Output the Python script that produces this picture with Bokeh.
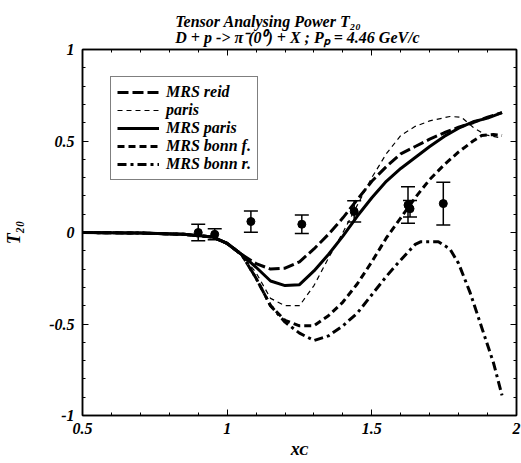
from bokeh.plotting import figure
from bokeh.models import (Range1d, LinearAxis, SingleIntervalTicker, Legend, LegendItem,
                          Whisker, ColumnDataSource, Title, CustomJSTickFormatter)
from bokeh.embed import file_html
from bokeh.resources import INLINE

# ---- data ----
x_reid = [0.5, 0.7, 0.85, 0.95, 1.0, 1.05, 1.1, 1.15, 1.2, 1.25, 1.3, 1.35, 1.4, 1.45, 1.5,
          1.55, 1.6, 1.65, 1.7, 1.75, 1.8, 1.85, 1.9, 1.95]
y_reid = [0.0, -0.003, -0.01, -0.025, -0.06, -0.12, -0.17, -0.2, -0.195, -0.16, -0.09, -0.01,
          0.08, 0.18, 0.28, 0.36, 0.43, 0.47, 0.51, 0.545, 0.575, 0.6, 0.63, 0.655]

x_paris = [0.5, 0.7, 0.85, 0.95, 1.0, 1.05, 1.1, 1.15, 1.2, 1.25, 1.3, 1.35, 1.4, 1.45, 1.5,
           1.55, 1.6, 1.65, 1.7, 1.77, 1.81, 1.85, 1.89, 1.95]
y_paris = [0.0, -0.003, -0.01, -0.025, -0.06, -0.12, -0.22, -0.36, -0.40, -0.40, -0.29, -0.14,
           0.0, 0.15, 0.3, 0.43, 0.53, 0.58, 0.61, 0.634, 0.63, 0.575, 0.535, 0.515]

x_mrs_paris = [0.5, 0.7, 0.85, 0.95, 1.0, 1.05, 1.1, 1.15, 1.2, 1.25, 1.3, 1.35, 1.4, 1.45,
               1.5, 1.55, 1.6, 1.65, 1.7, 1.75, 1.8, 1.85, 1.9, 1.95]
y_mrs_paris = [0.0, -0.003, -0.01, -0.025, -0.06, -0.12, -0.19, -0.265, -0.29, -0.285, -0.21,
               -0.12, -0.02, 0.09, 0.19, 0.28, 0.35, 0.41, 0.47, 0.525, 0.57, 0.605, 0.625, 0.655]

x_bonn_f = [0.5, 0.7, 0.85, 0.95, 1.0, 1.05, 1.1, 1.15, 1.2, 1.25, 1.3, 1.35, 1.4, 1.45, 1.5,
            1.55, 1.6, 1.65, 1.7, 1.75, 1.8, 1.85, 1.88, 1.92, 1.95]
y_bonn_f = [0.0, -0.003, -0.01, -0.025, -0.06, -0.12, -0.25, -0.4, -0.48, -0.51, -0.51, -0.455,
            -0.38, -0.28, -0.16, -0.03, 0.08, 0.19, 0.29, 0.37, 0.44, 0.5, 0.53, 0.535, 0.53]

x_bonn_r = [0.5, 0.7, 0.85, 0.95, 1.0, 1.05, 1.1, 1.15, 1.2, 1.25, 1.3, 1.35, 1.4, 1.45, 1.5,
            1.55, 1.6, 1.65, 1.67, 1.73, 1.77, 1.8, 1.84, 1.88, 1.92, 1.95]
y_bonn_r = [0.0, -0.003, -0.01, -0.025, -0.06, -0.12, -0.25, -0.4, -0.49, -0.55, -0.59, -0.565,
            -0.51, -0.44, -0.34, -0.24, -0.15, -0.065, -0.05, -0.05, -0.09, -0.17, -0.33, -0.52,
            -0.71, -0.89]

data_x = [0.9, 0.957, 1.082, 1.258, 1.439, 1.625, 1.632, 1.747]
data_y = [0.0, -0.01, 0.06, 0.045, 0.115, 0.15, 0.13, 0.158]
data_err = [0.045, 0.03, 0.058, 0.05, 0.058, 0.1, 0.045, 0.117]

x_ticks = [0.5, 1, 1.5, 2]
y_ticks = [-1, -0.5, 0, 0.5, 1]

FONT = "Liberation Serif"

p = figure(frame_width=434, frame_height=366, output_backend="svg", toolbar_location=None,
           x_range=Range1d(0.5, 2), y_range=Range1d(-1, 1),
           min_border_left=82, min_border_right=5, min_border_top=49, min_border_bottom=48)
p.background_fill_color = "white"
p.border_fill_color = "white"
p.outline_line_color = "black"
p.outline_line_width = 1.5
p.xgrid.visible = False
p.ygrid.visible = False

r_reid = p.line(x_reid, y_reid, line_color="black", line_width=3, line_dash="11 4")
r_paris = p.line(x_paris, y_paris, line_color="black", line_width=1.2, line_dash="5 4")
r_mrsp = p.line(x_mrs_paris, y_mrs_paris, line_color="black", line_width=3)
r_bf = p.line(x_bonn_f, y_bonn_f, line_color="black", line_width=3, line_dash="7 4")
r_br = p.line(x_bonn_r, y_bonn_r, line_color="black", line_width=3, line_dash="9 4 3 4")

src = ColumnDataSource(dict(x=data_x, y=data_y,
                            lo=[a - b for a, b in zip(data_y, data_err)],
                            hi=[a + b for a, b in zip(data_y, data_err)]))
w = Whisker(base="x", lower="lo", upper="hi", source=src, line_color="black", line_width=1.5)
w.upper_head.size = 14
w.lower_head.size = 14
w.upper_head.line_width = 1.5
w.lower_head.line_width = 1.5
p.add_layout(w)
p.scatter("x", "y", source=src, size=8, color="black")

# axes
for ax in (p.xaxis[0], p.yaxis[0]):
    ax.ticker = SingleIntervalTicker(interval=0.5, num_minor_ticks=5)
    ax.major_tick_in = 6
    ax.major_tick_out = 0
    ax.minor_tick_in = 3
    ax.minor_tick_out = 0
    ax.axis_line_width = 1.5
    ax.major_label_text_font = FONT
    ax.major_label_text_font_style = "bold italic"
    ax.major_label_text_font_size = "16px"
    ax.major_label_text_color = "black"
    ax.axis_label_text_font = FONT
    ax.axis_label_text_font_style = "bold italic"
    ax.axis_label_text_font_size = "18px"
    ax.axis_label_text_color = "black"
p.xaxis[0].major_label_overrides = {0.5: "0.5", 1: "1", 1.5: "1.5", 2: "2"}
p.yaxis[0].major_label_overrides = {-1: "-1", -0.5: "-0.5", 0: "0", 0.5: "0.5", 1: "1"}
p.xaxis[0].axis_label = "x\u1d04"
p.yaxis[0].axis_label = "T\u2082\u2080"
p.xaxis[0].major_label_standoff = 7
p.xaxis[0].axis_label_standoff = 2
p.yaxis[0].major_label_standoff = 8
p.yaxis[0].axis_label_standoff = 22

for loc in ("right", "above"):
    ax = LinearAxis(ticker=SingleIntervalTicker(interval=0.5, num_minor_ticks=5),
                    major_tick_in=6, major_tick_out=0, minor_tick_in=3, minor_tick_out=0,
                    formatter=CustomJSTickFormatter(code="return ''"),
                    major_label_standoff=0, axis_line_width=1.5)
    p.add_layout(ax, loc)

# title (two lines)
title_text = ("Tensor Analysing Power T\u2082\u2080\n"
              "D + p -> \u03c0\u207b(0\u2070) + X ;  P\u209a = 4.46 GeV/c")
t = Title(text=title_text, align="center",
          text_font=FONT, text_font_style="bold italic", text_font_size="16px",
          text_color="black", text_line_height=0.95, standoff=7, offset=0)
p.add_layout(t, "above")

legend = Legend(items=[
    LegendItem(label="MRS reid", renderers=[r_reid]),
    LegendItem(label="paris", renderers=[r_paris]),
    LegendItem(label="MRS paris", renderers=[r_mrsp]),
    LegendItem(label="MRS bonn f.", renderers=[r_bf]),
    LegendItem(label="MRS bonn r.", renderers=[r_br]),
], location=(28, 235))
legend.label_text_font = FONT
legend.label_text_font_style = "bold italic"
legend.label_text_font_size = "16px"
legend.label_text_color = "black"
legend.glyph_width = 42
legend.label_height = 18
legend.glyph_height = 18
legend.spacing = 0
legend.padding = 6
legend.margin = 0
legend.border_line_color = "black"
legend.border_line_width = 1.5
legend.label_standoff = 7
p.add_layout(legend, "center")

open("out.html", "w").write(file_html(p, INLINE))
